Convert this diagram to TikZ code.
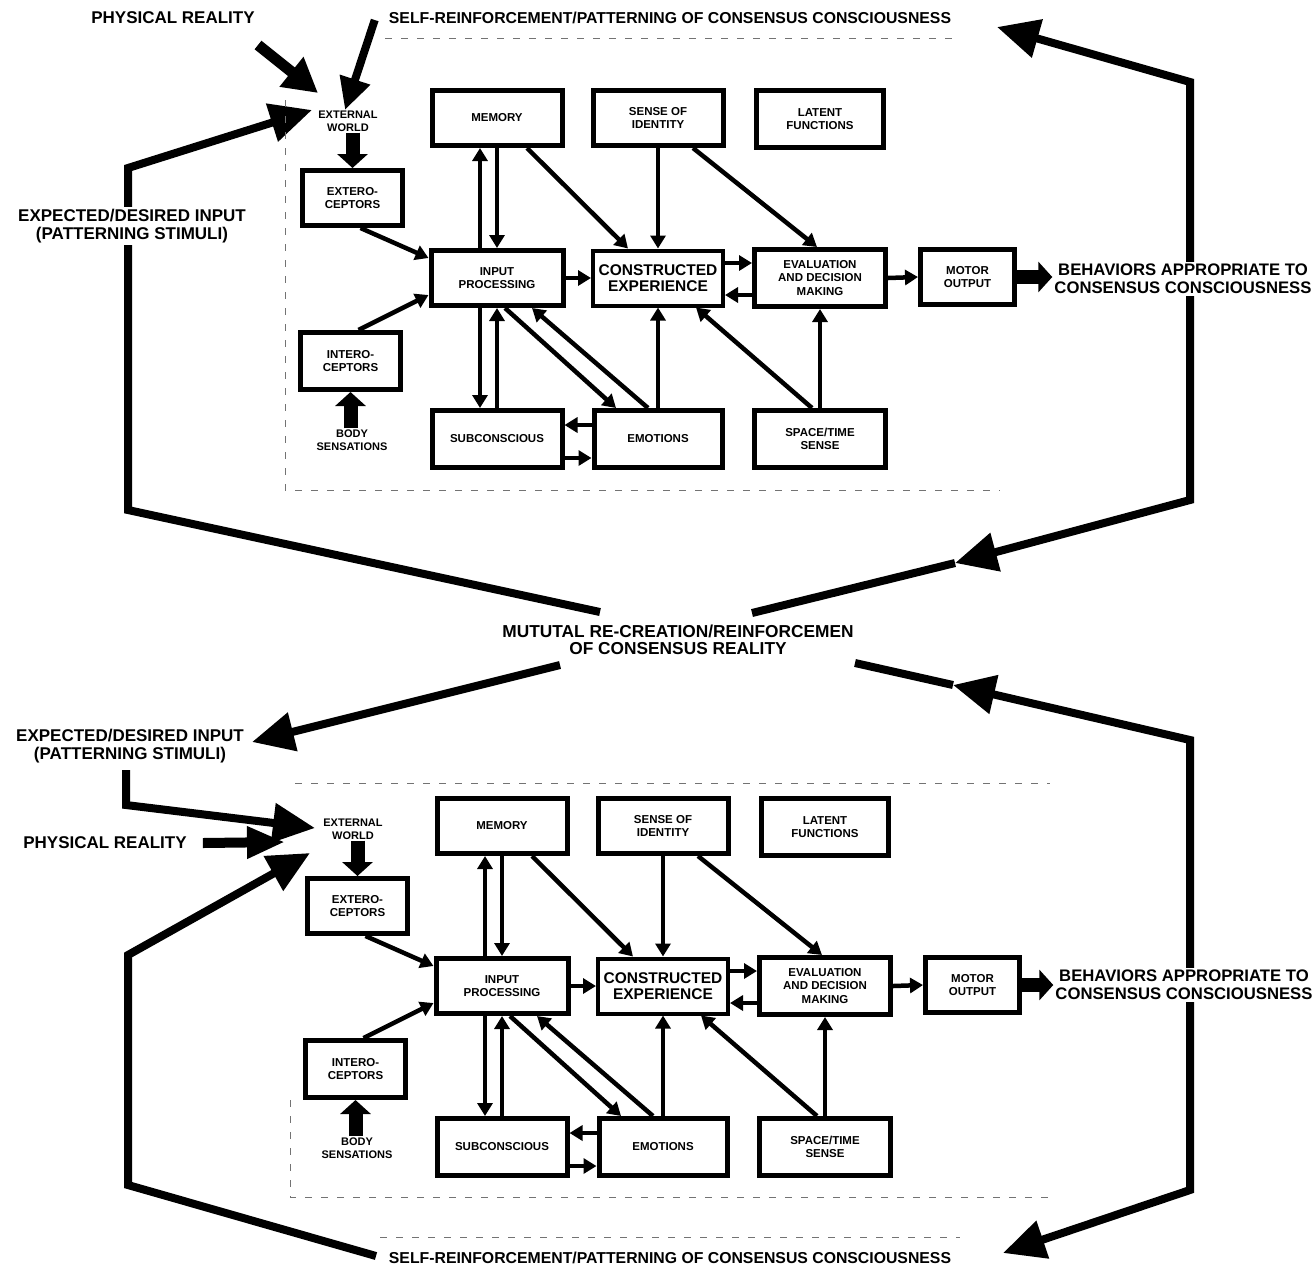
\documentclass[tikz,border=0pt]{standalone}
\usepackage{fontspec}
\setmainfont{Liberation Sans}
\usetikzlibrary{arrows.meta,backgrounds}
\tikzset{
  box/.style={draw, line width=5pt, align=center, inner sep=0pt, fill=white,
    font=\fontsize{11.5}{13.5}\selectfont\bfseries},
  conn/.style={line width=4.5pt, -{Triangle[length=13pt,width=15pt]}},
  blockarrow/.style={line width=14pt, -{Triangle[length=14pt,width=30pt]}},
  loopline/.style={line width=8pt, line join=miter},
  bigtip/.style={-{Triangle[length=42pt,width=38pt]}},
  biglabel/.style={font=\fontsize{17}{18.5}\selectfont\bfseries, align=center, inner sep=2pt, fill=white},
  midlabel/.style={font=\fontsize{15.8}{17}\selectfont\bfseries, align=center, inner sep=2pt, fill=white},
  smalltxt/.style={font=\fontsize{11}{13}\selectfont\bfseries, align=center, inner sep=1pt},
  framedash/.style={black!55, line width=1pt, dash pattern=on 7pt off 9pt},
}
\newcommand\drawmodule{%
  \node[smalltxt] (extw) at (348,121) {EXTERNAL\\WORLD};
  \node[box, minimum width=100pt, minimum height=55pt] (ext) at (352.5,198) {EXTERO-\\CEPTORS};
  \node[box, minimum width=100pt, minimum height=57pt] (int) at (350.5,361) {INTERO-\\CEPTORS};
  \node[smalltxt] (body) at (352,440) {BODY\\SENSATIONS};
  \node[box, minimum width=130pt, minimum height=55pt] (mem) at (497,118) {MEMORY};
  \node[box, minimum width=130pt, minimum height=55pt] (sen) at (658,118) {SENSE OF\\IDENTITY};
  \node[box, minimum width=127pt, minimum height=57pt] (lat) at (820,119) {LATENT\\FUNCTIONS};
  \node[box, minimum width=132pt, minimum height=55pt] (inp) at (497,278) {INPUT\\PROCESSING};
  \node[box, minimum width=130pt, minimum height=55pt, line width=4pt,
        font=\fontsize{15.5}{16.5}\selectfont\bfseries] (cons) at (658,278) {CONSTRUCTED\\EXPERIENCE};
  \node[box, minimum width=131pt, minimum height=57pt] (eva) at (820,278) {EVALUATION\\AND DECISION\\MAKING};
  \node[box, minimum width=94pt, minimum height=55pt] (mot) at (967.5,277) {MOTOR\\OUTPUT};
  \node[box, minimum width=130pt, minimum height=57pt] (sub) at (497,439) {SUBCONSCIOUS};
  \node[box, minimum width=128pt, minimum height=57pt] (emo) at (658,439) {EMOTIONS};
  \node[box, minimum width=131pt, minimum height=57pt] (spa) at (820,439) {SPACE/TIME\\SENSE};
  \draw[conn] ([xshift=8pt]ext.south) -- ([yshift=20pt]inp.west);
  \draw[conn] ([xshift=8pt]int.north) -- ([yshift=-17pt]inp.west);
  \draw[conn] ([xshift=-17pt]inp.north) -- ([xshift=-17pt]mem.south);
  \draw[conn] (mem.south) -- (inp.north);
  \draw[conn] ([xshift=30pt]mem.south) -- ([xshift=-30pt]cons.north);
  \draw[conn] (sen.south) -- (cons.north);
  \draw[conn] ([xshift=35pt]sen.south) -- ([xshift=-3pt]eva.north);
  \draw[conn] (inp.east) -- (cons.west);
  \draw[conn] ([yshift=15pt]cons.east) -- ([yshift=15pt]eva.west);
  \draw[conn] ([yshift=-17pt]eva.west) -- ([yshift=-17pt]cons.east);
  \draw[conn] (eva.east) -- (mot.west);
  \draw[conn] ([xshift=-17pt]inp.south) -- ([xshift=-17pt]sub.north);
  \draw[conn] (sub.north) -- (inp.south);
  \draw[conn] ([xshift=8pt]inp.south) -- ([xshift=-42pt]emo.north);
  \draw[conn] ([xshift=-10pt]emo.north) -- ([xshift=35pt]inp.south);
  \draw[conn] (emo.north) -- (cons.south);
  \draw[conn] ([xshift=-8pt]spa.north) -- ([xshift=38pt]cons.south);
  \draw[conn] (spa.north) -- (eva.south);
  \draw[conn] ([yshift=14pt]emo.west) -- ([yshift=14pt]sub.east);
  \draw[conn] ([yshift=-19pt]sub.east) -- ([yshift=-19pt]emo.west);
  \draw[blockarrow] (extw.south -| ext.north) -- (ext.north);
  \draw[blockarrow] (body.north -| int.south) -- (int.south);
}
\begin{document}
\begin{tikzpicture}[x=1pt, y=-1pt]
\useasboundingbox (0,0) rectangle (1314,1270);
\begin{pgfonlayer}{background}
  \fill[white] (0,0) rectangle (1314,1270);
\end{pgfonlayer}

% faint paste-up frames
\draw[framedash] (385,38) -- (955,38);
\draw[framedash] (285,100) -- (285,490) -- (1000,490);
\draw[framedash] (295,783) -- (1050,783);
\draw[framedash] (290,1100) -- (290,1197) -- (1050,1197);
\draw[framedash] (380,1237) -- (960,1237);

% modules
\begin{scope}[name prefix=T-]
  \drawmodule
\end{scope}
\begin{scope}[shift={(5,708)}, name prefix=B-]
  \drawmodule
\end{scope}

% labels
\node[biglabel] (t-phys) at (173,18) {PHYSICAL REALITY};
\node[midlabel] (t-self) at (670,18) {SELF-REINFORCEMENT/PATTERNING OF CONSENSUS CONSCIOUSNESS};
\node[biglabel] (t-exp) at (132,226) {EXPECTED/DESIRED INPUT\\(PATTERNING STIMULI)};
\node[biglabel, font=\fontsize{16.7}{18}\selectfont\bfseries] (t-beh) at (1183,279) {BEHAVIORS APPROPRIATE TO\\CONSENSUS CONSCIOUSNESS};
\node[biglabel, font=\fontsize{17.3}{16.5}\selectfont\bfseries] (mutual) at (678,640) {MUTUTAL RE-CREATION/REINFORCEMEN\\OF CONSENSUS REALITY};
\node[biglabel] (b-exp) at (130,746) {EXPECTED/DESIRED INPUT\\(PATTERNING STIMULI)};
\node[biglabel] (b-phys) at (105,843) {PHYSICAL REALITY};
\node[biglabel, font=\fontsize{16.7}{18}\selectfont\bfseries] (b-beh) at (1184,985) {BEHAVIORS APPROPRIATE TO\\CONSENSUS CONSCIOUSNESS};
\node[midlabel] (b-self) at (670,1258) {SELF-REINFORCEMENT/PATTERNING OF CONSENSUS CONSCIOUSNESS};

% named free ends
\coordinate (tw1) at (318,93);
\coordinate (tw2) at (345,110);
\coordinate (tw3) at (312,110);
\coordinate (bw1) at (315,828);
\coordinate (bw2) at (285,842);
\coordinate (bw3) at (310,853);

% block arrows from motor output
\draw[blockarrow] (T-mot.east) -- (T-mot.east -| t-beh.west);
\draw[blockarrow] (B-mot.east) -- (B-mot.east -| b-beh.west);

% direct inputs to external world
\draw[line width=11pt, -{Triangle[length=34pt,width=36pt]}] (258,45) -- (tw1);
\draw[line width=8pt, -{Triangle[length=32pt,width=30pt]}] ([xshift=-12pt,yshift=-2pt]t-self.west) -- (tw2);
\draw[line width=10pt, -{Triangle[length=38pt,width=30pt]}] ([xshift=14pt]b-phys.east) -- (bw2);

% big loops
\begin{pgfonlayer}{background}
  % top
  \draw[loopline, bigtip] (600,612) -- (128,510) -- (128,168) -- (tw3);
  \draw[loopline, bigtip] (t-beh.center -| 1190,0) -- (1190,82) -- (997,27);
  \draw[loopline, bigtip] (t-beh.center -| 1190,0) -- (1190,500) -- (955,563);
  \draw[loopline] (955,563) -- (752,613);
  % bottom
  \draw[loopline, bigtip] (560,665) -- (252,742);
  \draw[loopline, bigtip] (126,770) -- (126,805) -- (bw1);
  \draw[loopline, bigtip] (376,1256) -- (128,1185) -- (128,955) -- (bw3);
  \draw[loopline, bigtip] (b-beh.center -| 1190,0) -- (1190,740) -- (953,685);
  \draw[loopline] (953,685) -- (855,663);
  \draw[loopline, bigtip] (b-beh.center -| 1190,0) -- (1190,1190) -- (1003,1253);
\end{pgfonlayer}
\end{tikzpicture}
\end{document}
